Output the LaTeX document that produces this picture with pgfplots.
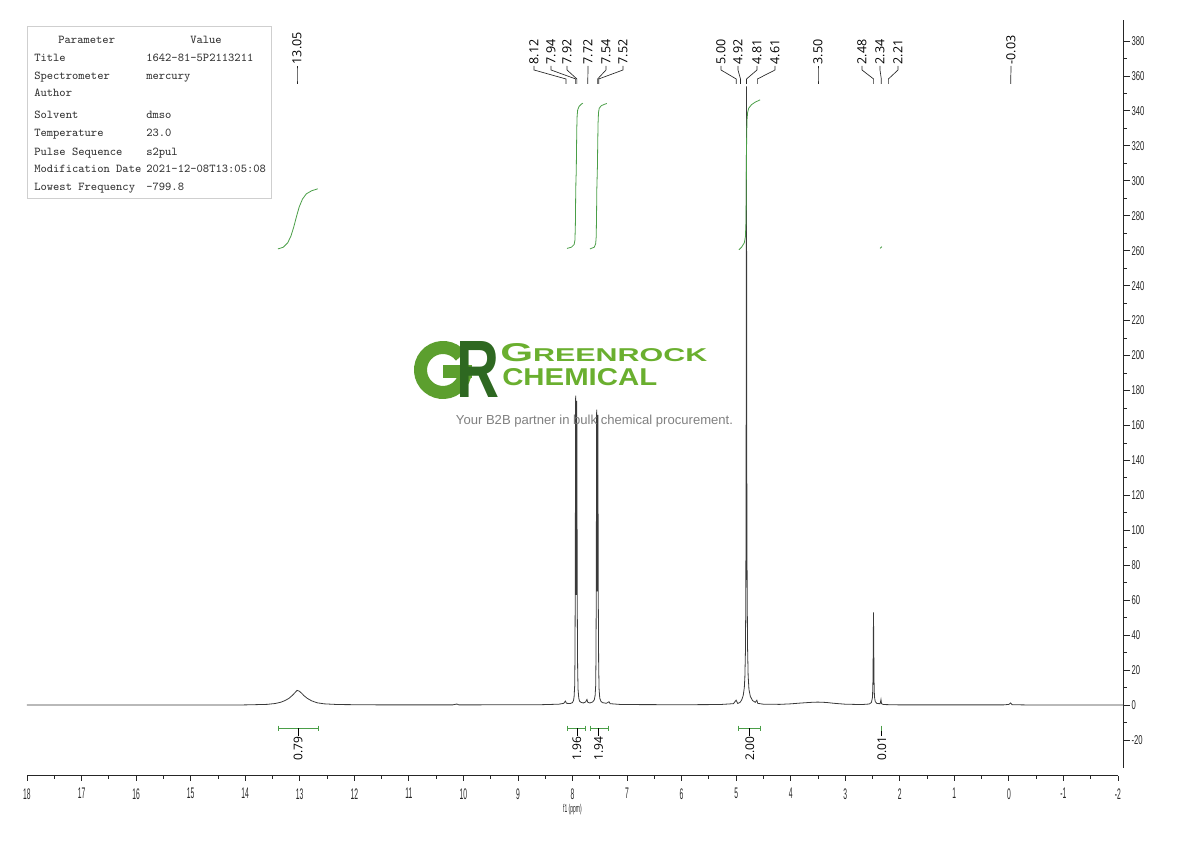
\documentclass[border=0pt]{standalone}
\usepackage{pgfplots}
\pgfplotsset{compat=1.18}
\usepackage{graphicx}
\usepackage{fontspec}
\setmainfont{Open Sans}
\newfontfamily\condy[FakeStretch=0.6]{Liberation Sans}
\newfontfamily\condx[FakeStretch=0.44]{Liberation Sans}
\newfontfamily\logofont{Liberation Sans}

\definecolor{spec}{HTML}{3A3A3A}
\definecolor{intg}{HTML}{4A9E47}
\definecolor{logoG}{HTML}{5C9F2E}
\definecolor{logoR}{HTML}{2E6821}
\definecolor{logoT}{HTML}{6AAF2F}
\definecolor{tagc}{HTML}{808080}
\definecolor{boxc}{HTML}{CFCFCF}
\definecolor{boxt}{HTML}{333333}

% integration bracket: left ppm, right ppm, label ppm, value
\newcommand{\integ}[4]{%
  \draw[intg, line width=0.6pt] (axis cs:#1,-13.2) -- (axis cs:#2,-13.2)
    (axis cs:#1,-11.8) -- (axis cs:#1,-14.6)
    (axis cs:#2,-11.8) -- (axis cs:#2,-14.6);
  \draw[black, line width=0.5pt] (axis cs:#3,-13.2) -- (axis cs:#3,-17.5);
  \node[rotate=90, anchor=east, inner sep=0.5pt, font=\fontsize{9}{9}\selectfont] at (axis cs:#3,-17.5) {#4};
}
% peak label (pixel coords): label x, peak x, text
\newcommand{\plab}[3]{%
  \draw[black!85, line width=0.5pt] (#1,66) -- (#1,70) -- (#2,79) -- (#2,84);
  \node[rotate=90, anchor=west, inner sep=0pt, font=\fontsize{9.4}{9.4}\selectfont] at (#1,64.5) {#3};
}

\begin{document}
\begin{tikzpicture}
\path[use as bounding box] (0,0) rectangle (892.5pt,630.75pt);

% spectrum, right intensity axis
\begin{axis}[
  at={(20.25pt,54.75pt)}, anchor=south west,
  scale only axis, width=822.75pt, height=561pt,
  xmin=-2.11, xmax=18, x dir=reverse,
  ymin=-36, ymax=392,
  axis x line=none, axis y line*=right,
  axis line style={-, black!85, line width=0.75pt},
  ytick={-20,0,...,380}, minor y tick num=1,
  tick align=outside, major tick length=4.5pt, minor tick length=2.25pt,
  tick style={black!85, line width=0.6pt},
  yticklabel style={font=\condy\fontsize{9.6}{10}\selectfont, text=black!85, inner sep=1pt},
  /pgf/number format/assume math mode=true,
  clip=false,
]
\addplot[spec, line width=0.6pt] table {
ppm int
18.00 0.0
16.00 0.0
14.00 0.1
13.60 0.4
13.45 0.9
13.35 1.6
13.27 2.6
13.20 3.8
13.14 5.4
13.09 7.0
13.05 8.4
13.01 8.0
12.97 6.9
12.92 5.3
12.86 3.8
12.78 2.4
12.68 1.3
12.55 0.7
12.30 0.3
11.50 0.1
10.20 0.1
10.12 0.6
10.08 0.1
8.60 0.2
8.25 0.5
8.16 1.0
8.13 2.3
8.11 1.0
8.04 0.9
8.00 1.4
7.98 2.8
7.97 5.0
7.96 11
7.955 25
7.95 60
7.946 120
7.942 177
7.938 130
7.934 75
7.931 63
7.928 80
7.924 140
7.921 174
7.917 120
7.912 55
7.906 22
7.898 9
7.885 4
7.87 2.2
7.84 1.5
7.80 1.2
7.76 1.8
7.735 3.2
7.72 1.6
7.68 1.2
7.63 1.8
7.60 3.0
7.585 5.5
7.575 11
7.57 25
7.565 58
7.561 115
7.557 169
7.553 125
7.549 75
7.546 65
7.543 78
7.539 135
7.535 166
7.531 115
7.526 55
7.52 22
7.512 9
7.50 4
7.48 2.2
7.45 1.4
7.38 1.0
7.33 1.9
7.31 0.8
7.10 0.3
6.00 0.2
5.30 0.3
5.05 0.8
5.00 2.8
4.97 0.9
4.93 1.5
4.90 2.8
4.87 5.5
4.85 10
4.84 16
4.83 30
4.823 60
4.818 120
4.814 230
4.811 354
4.808 250
4.804 130
4.798 65
4.79 32
4.78 17
4.765 9
4.74 5
4.70 2.6
4.65 1.6
4.62 2.8
4.605 1.0
4.50 0.5
4.20 0.4
4.00 0.7
3.80 1.2
3.60 1.6
3.50 1.7
3.35 1.5
3.20 1.0
3.00 0.5
2.70 0.3
2.56 0.6
2.52 1.5
2.50 4.5
2.492 14
2.486 35
2.482 53
2.478 36
2.472 14
2.465 5
2.45 2
2.42 0.9
2.36 0.8
2.345 3.2
2.335 0.8
2.30 0.3
2.00 0.1
0.10 0.1
0.00 0.4
-0.03 1.2
-0.06 0.2
-0.50 0.0
-2.11 0.0
};
% integral curves
\addplot[intg, line width=0.6pt] table {
ppm int
13.40 261.0
13.30 262.0
13.22 264.5
13.16 268.5
13.11 273.5
13.06 279.5
13.01 285.0
12.95 289.5
12.88 292.5
12.78 294.3
12.67 295.4
};
\addplot[intg, line width=0.6pt] table {
ppm int
8.10 261.3
8.02 262.0
7.97 263.5
7.955 266
7.947 275
7.942 290
7.937 300
7.931 305
7.926 318
7.921 330
7.915 337
7.905 340.5
7.88 342.5
7.84 343.8
7.81 344.4
};
\addplot[intg, line width=0.6pt] table {
ppm int
7.68 261.0
7.60 262.0
7.575 264
7.565 268
7.559 280
7.554 295
7.548 302
7.543 308
7.537 322
7.531 333
7.523 339
7.51 341.5
7.47 343
7.41 343.8
7.37 344.2
};
\addplot[intg, line width=0.6pt] table {
ppm int
4.95 260.5
4.90 262
4.85 264.5
4.83 268
4.82 276
4.815 290
4.811 310
4.807 326
4.80 335
4.79 339
4.77 341.5
4.72 343.5
4.65 345
4.56 346.3
};
\addplot[intg, line width=0.6pt] table {
ppm int
2.36 261.3
2.33 262.3
};
% integration brackets
\integ{13.40}{12.665}{13.03}{0.79}
\integ{8.10}{7.77}{7.92}{1.96}
\integ{7.68}{7.35}{7.52}{1.94}
\integ{4.95}{4.56}{4.75}{2.00}
\draw[intg, line width=0.8pt] (axis cs:2.33,-11.8) -- (axis cs:2.33,-15);
\draw[black, line width=0.5pt] (axis cs:2.33,-15) -- (axis cs:2.33,-17.5);
\node[rotate=90, anchor=east, inner sep=0.5pt, font=\fontsize{9}{9}\selectfont] at (axis cs:2.33,-17.5) {0.01};
\end{axis}

% chemical shift axis
\begin{axis}[
  at={(20.25pt,48.75pt)}, anchor=south west,
  scale only axis, width=818.25pt, height=30pt,
  xmin=-2, xmax=18, x dir=reverse, ymin=0, ymax=1,
  axis x line*=bottom, axis y line=none,
  axis line style={-, black!85, line width=0.75pt},
  xtick={-2,-1,...,18}, minor x tick num=1,
  tick align=outside, major tick length=3.75pt, minor tick length=2pt,
  tick style={black!85, line width=0.6pt},
  xticklabel style={font=\condx\fontsize{11.5}{11.5}\selectfont, text=black!85, yshift=-2pt},
  /pgf/number format/assume math mode=true,
  xlabel={f1 (ppm)},
  xlabel style={font=\condx\fontsize{8.5}{8.5}\selectfont, text=black!85, at={(axis description cs:0.5,0)}, anchor=center, yshift=-25pt},
]
\addplot[draw=none] coordinates {(0,0)};
\end{axis}

\begin{scope}[x=0.75pt, y=-0.75pt, shift={(0pt,630.75pt)}]
% parameter table
\draw[boxc, line width=0.75pt] (27,27) rectangle (271,199);
\begin{scope}[every node/.style={inner sep=0pt, font=\ttfamily\fontsize{9}{9}\selectfont, text=boxt}]
\node[anchor=base] at (86.7,43.7) {Parameter};
\node[anchor=base] at (206,43.7) {Value};
\node[anchor=base west] at (34,61.4) {Title};
\node[anchor=base west] at (146,61.4) {1642-81-5P2113211};
\node[anchor=base west] at (34,79.4) {Spectrometer};
\node[anchor=base west] at (146,79.4) {mercury};
\node[anchor=base west] at (34,97) {Author};
\node[anchor=base west] at (34,118.7) {Solvent};
\node[anchor=base west] at (146,118.7) {dmso};
\node[anchor=base west] at (34,137) {Temperature};
\node[anchor=base west] at (146,137) {23.0};
\node[anchor=base west] at (34,155.4) {Pulse Sequence};
\node[anchor=base west] at (146,155.4) {s2pul};
\node[anchor=base west] at (34,173) {Modification Date};
\node[anchor=base west] at (146,173) {2021-12-08T13:05:08};
\node[anchor=base west] at (34,191) {Lowest Frequency};
\node[anchor=base west] at (146,191) {-799.8};
\end{scope}

% peak labels
\plab{297}{297}{13.05}
\plab{534}{566}{8.12}
\plab{551}{575.8}{7.94}
\plab{567}{576.9}{7.92}
\plab{588}{587.8}{7.72}
\plab{606}{597.6}{7.54}
\plab{623}{598.7}{7.52}
\plab{721}{736.2}{5.00}
\plab{738}{740.5}{4.92}
\plab{757}{746.5}{4.81}
\plab{775}{757.4}{4.61}
\plab{818}{818}{3.50}
\plab{862}{873.6}{2.48}
\plab{880}{881.3}{2.34}
\plab{898}{888.4}{2.21}
\plab{1011}{1010.7}{-0.03}

% logo watermark
\draw[logoG, line width=9.75pt] (443,370) ++(-38:22.5) arc[start angle=-38, end angle=-360, radius=22.5];
\fill[logoG] (443,365) rectangle (472,378);
\node[inner sep=0pt, text=logoR] at (478.5,370) {\resizebox{32.25pt}{42pt}{\logofont\bfseries R}};
\node[inner sep=0pt, anchor=north west, text=logoT] at (500,343) {\resizebox{155.25pt}{13.5pt}{\logofont\bfseries{\fontsize{10}{10}\selectfont G}{\fontsize{7.2}{7.2}\selectfont REENROCK}}};
\node[inner sep=0pt, anchor=north west, text=logoT] at (502,368) {\resizebox{116.25pt}{12.75pt}{\logofont\bfseries CHEMICAL}};
\node[inner sep=0pt, text=tagc] at (594.5,421) {\resizebox{207.75pt}{!}{\logofont Your B2B partner in bulk chemical procurement.}};
\end{scope}
\end{tikzpicture}
\end{document}
